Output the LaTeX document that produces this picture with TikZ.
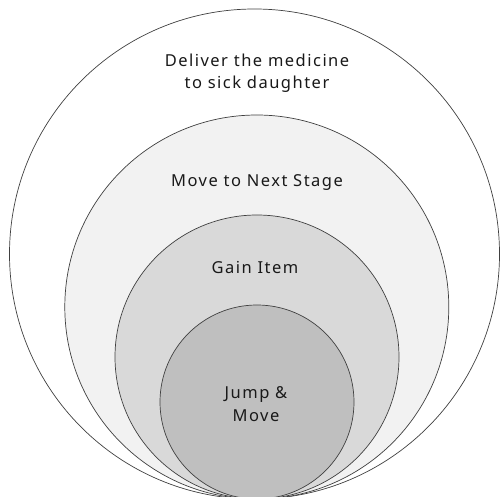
\documentclass[tikz,border=0pt]{standalone}
\usepackage{fontspec}
\setmainfont{Noto Sans}[LetterSpace=9]
\begin{document}
\begin{tikzpicture}[x=1pt,y=-1pt,
  ring/.style={circle,draw=black!75,line width=0.7pt,inner sep=0pt},
  label/.style={font=\fontsize{16.5}{22.5}\selectfont,text=black!90,align=center,inner sep=0pt}]
  \useasboundingbox (0,0) rectangle (501,497);
  \clip (0,0) rectangle (501,497);
  % nested goals, all touching at the bottom
  \node[ring,fill=white,minimum size=490pt]   (goal)  at (254.5,254) {};
  \node[ring,fill=black!5,minimum size=384pt] (stage) at (256.8,307) {};
  \node[ring,fill=black!15,minimum size=284pt] (item) at (257,357) {};
  \node[ring,fill=black!25,minimum size=194pt] (move) at (257,402) {};
  % captions
  \node[label] (tgoal)  at (257,73)  {Deliver the medicine\\to sick daughter};
  \node[label] (tstage) at (257,183) {Move to Next Stage};
  \node[label] (titem)  at (255,268) {Gain Item};
  \node[label] (tmove)  at (256,404) {Jump \&\\Move};
\end{tikzpicture}
\end{document}
